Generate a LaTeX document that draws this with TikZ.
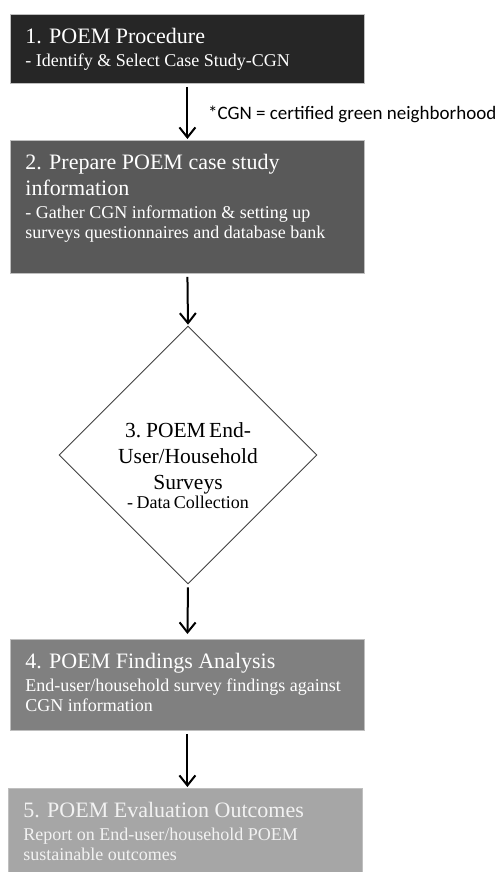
\documentclass[tikz,border=0pt]{standalone}
\usepackage{fontspec}
\setmainfont{Liberation Serif}
\newfontfamily\notefont{Carlito}
\usetikzlibrary{arrows.meta,shapes.geometric}
\def\titlefont{\fontsize{22}{26}\selectfont}
\def\subfont{\fontsize{18}{20.5}\selectfont}
\def\steptext#1#2#3{\parbox[t][#1][t]{324pt}{\titlefont\rule{0pt}{29pt}#2\par\vspace{2.5pt}\subfont #3}}
\tikzset{
	stepbox/.style={rectangle, draw=black!25, line width=0.8pt, text=white, inner xsep=15pt, inner ysep=0pt, anchor=north west},
	flowarrow/.style={-{Straight Barb[length=10pt,width=16pt,line width=2pt]}, line width=2pt, shorten <=3pt, shorten >=1pt}
}

\begin{document}
\begin{tikzpicture}[x=1pt,y=-1pt]
			%%%%% START %%%%%
			\useasboundingbox (0,0) rectangle (502,872);
			
			\node[stepbox, fill=black!85] (proc) at (10,14) {\steptext{69pt}{1. POEM Procedure}{- Identify \& Select Case Study-CGN}};
			\node[stepbox, fill=black!65] (prep) at (10,140) {\steptext{133pt}{2. Prepare POEM case study\\information}{- Gather CGN information \& setting up\\surveys questionnaires and database bank}};
			
			\node[diamond, draw=black!75, line width=0.9pt, aspect=1, minimum width=254pt, minimum height=254pt, inner sep=0pt, text width=150pt, align=center] (survey) at (188,455)
				{{\fontsize{21.5}{26}\selectfont\rule{0pt}{36pt}3. POEM End-\\User/Household\\Surveys\par}\vspace{-1pt}{\subfont - Data Collection\par}};
			
			\node[stepbox, fill=black!50] (find) at (10,639) {\steptext{91pt}{4. POEM Findings Analysis}{End-user/household survey findings against\\CGN information}};
			\node[stepbox, fill=black!35, text=black!5] (eval) at (8,788) {\steptext{90pt}{5. POEM Evaluation Outcomes}{Report on End-user/household POEM\\sustainable outcomes}};
			
			\node[anchor=base west, inner sep=0pt, font=\notefont\fontsize{19}{22}\selectfont] (note) at (208,120) {*CGN = certified green neighborhood};
			
			\draw[flowarrow] (proc.south) -- (prep.north);
			\draw[flowarrow] (prep.south) -- (survey.north);
			\draw[flowarrow, shorten >=5pt] (survey.south) -- (find.north);
			\draw[flowarrow] (find.south) -- (find.south |- eval.north);
			
			%%%%% END %%%%%
\end{tikzpicture}
\end{document}
